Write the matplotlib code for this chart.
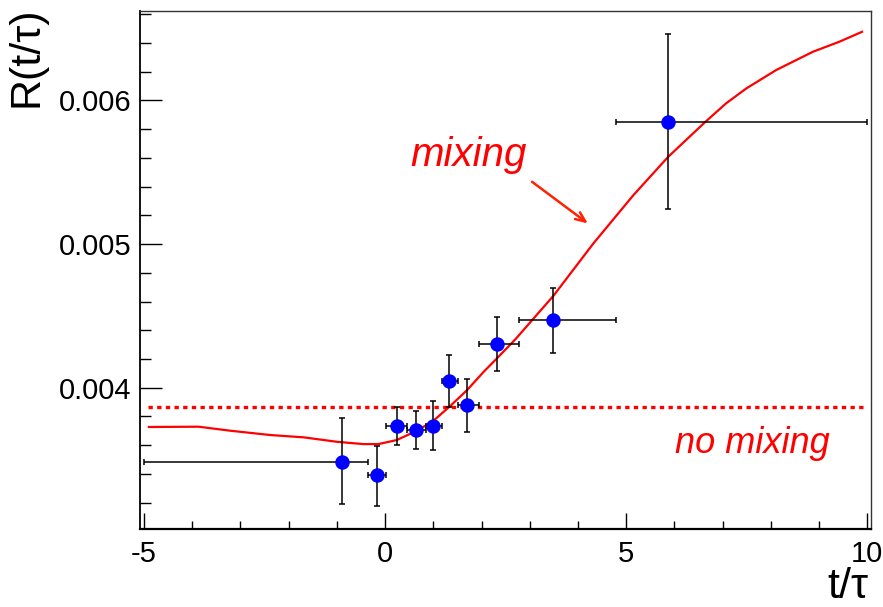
import matplotlib
matplotlib.use('Agg')
import matplotlib.pyplot as plt
from matplotlib.ticker import MultipleLocator, FormatStrFormatter

plt.rcParams['font.family'] = ['Liberation Sans', 'DejaVu Sans']

# measured points (t/tau, R) with bin edges and y errors
t_pts = [-0.888, -0.162, 0.241, 0.641, 1.000, 1.325, 1.705, 2.314, 3.488, 5.861]
t_lo = [-5.0, -0.36, 0.02, 0.448, 0.848, 1.174, 1.506, 1.94, 2.785, 4.785]
t_hi = [-0.36, 0.02, 0.448, 0.848, 1.174, 1.506, 1.94, 2.785, 4.785, 10.0]
r_pts = [0.003485, 0.003392, 0.003733, 0.003704, 0.003733, 0.004044, 0.003878, 0.004302, 0.004471, 0.005847]
r_top = [0.003787, 0.003596, 0.003868, 0.00384, 0.00391, 0.004228, 0.004058, 0.00449, 0.004696, 0.006459]
r_bot = [0.003191, 0.003179, 0.003601, 0.003573, 0.003568, 0.003863, 0.003692, 0.004116, 0.004244, 0.005244]

# mixing fit curve
t_fit = [-4.90, -3.87, -3.21, -2.38, -1.69, -1.00, -0.45, -0.14, 0.24, 0.66, 1.00, 1.35, 1.70,
         2.04, 2.32, 2.70, 3.49, 4.32, 5.15, 5.87, 6.63, 7.07, 7.49, 8.11, 8.87, 9.42, 9.89]
r_fit = [0.003727, 0.003729, 0.003701, 0.003671, 0.003655, 0.003624, 0.003608, 0.003608, 0.003636,
         0.003701, 0.003770, 0.003873, 0.003984, 0.004110, 0.004205, 0.004337, 0.004640, 0.005005,
         0.005341, 0.005607, 0.005847, 0.005979, 0.006083, 0.006211, 0.006338, 0.006408, 0.006477]

# no mixing level
r_flat = 0.003868
t_flat = [-4.92, 9.9]

fig = plt.figure(figsize=(8.83, 6.07), dpi=100)
ax = fig.add_axes([0.1586, 0.128, 0.8275, 0.8544])

xerr = [[t - lo for t, lo in zip(t_pts, t_lo)], [hi - t for t, hi in zip(t_pts, t_hi)]]
yerr = [[r - b for r, b in zip(r_pts, r_bot)], [t - r for r, t in zip(r_pts, r_top)]]

ax.plot(t_flat, [r_flat, r_flat], color='red', lw=2.4, dashes=(1.3, 1.3), dash_capstyle='butt', zorder=2)
ax.plot(t_fit, r_fit, color='red', lw=1.6, zorder=3)
ax.errorbar(t_pts, r_pts, xerr=xerr, yerr=yerr, fmt='none', ecolor='black', elinewidth=1.1,
            capsize=2.5, capthick=1.1, zorder=4)
ax.plot(t_pts, r_pts, 'o', color='#0000ff', ms=9.4, mec='#0000ff', zorder=5)

ax.text(0.52, 0.005545, 'mixing', color='red', style='italic', fontsize=29)
ax.text(6.01, 0.003543, 'no mixing', color='red', style='italic', fontsize=26)
ax.annotate('', xy=(4.25, 0.005132), xytext=(3.0, 0.005445),
            arrowprops=dict(arrowstyle='->,head_length=0.7,head_width=0.3', color='#ff2200', lw=1.8))

ax.set_xlim(-5.083, 10.07)
ax.set_ylim(0.003015, 0.006624)

ax.xaxis.set_major_locator(MultipleLocator(5))
ax.xaxis.set_minor_locator(MultipleLocator(1))
ax.yaxis.set_major_locator(MultipleLocator(0.001))
ax.yaxis.set_minor_locator(MultipleLocator(0.0002))
ax.yaxis.set_major_formatter(FormatStrFormatter('%.3f'))
ax.xaxis.set_major_formatter(FormatStrFormatter('%g'))

ax.tick_params(axis='both', which='both', direction='in', top=False, right=False, labelsize=21)
ax.tick_params(axis='x', which='major', length=11.5, width=1.0, pad=8)
ax.tick_params(axis='x', which='minor', length=5.8, width=1.0)
ax.tick_params(axis='y', which='major', length=15.6, width=1.0, pad=6)
ax.tick_params(axis='y', which='minor', length=7.7, width=1.0)

ax.spines['bottom'].set_linewidth(1.6)
ax.spines['left'].set_linewidth(1.3)
for s in ['top', 'right']:
    ax.spines[s].set_linewidth(1.0)
    ax.spines[s].set_color('#333333')

fig.text(0.030, 0.99, 'R(t/\u03c4)', rotation=90, fontsize=31, ha='center', va='top')
fig.text(0.983, 0.015, 't/\u03c4', fontsize=31, ha='right', va='baseline')

fig.savefig('out.png', dpi=100)
